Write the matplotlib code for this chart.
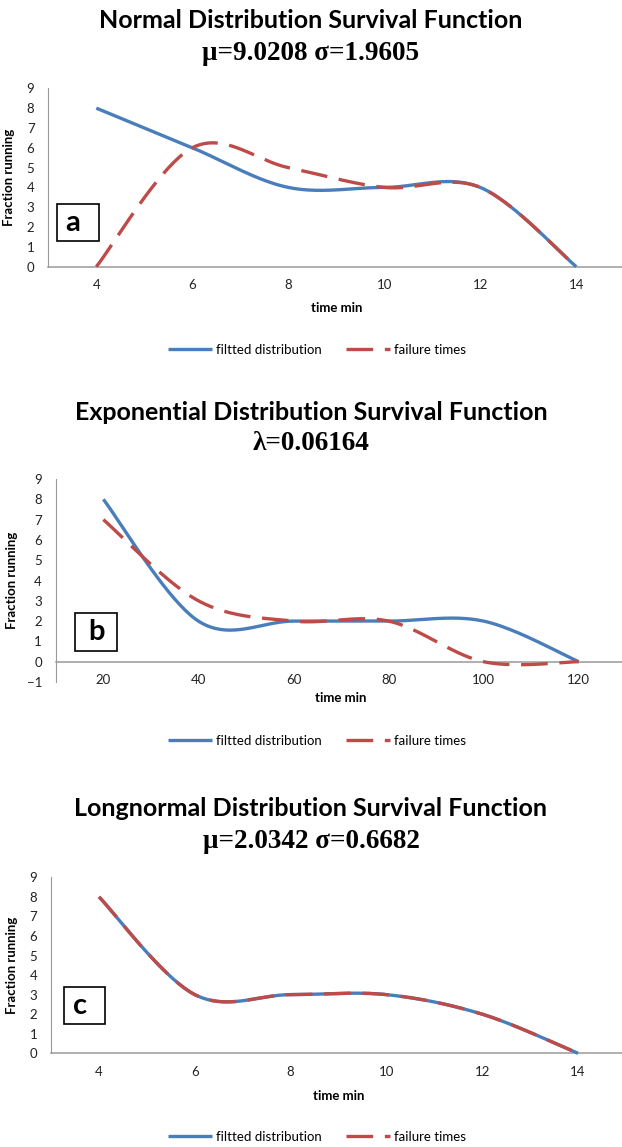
import numpy as np
import matplotlib
matplotlib.use("Agg")
import matplotlib.pyplot as plt
from matplotlib.patches import Rectangle

plt.rcParams['font.family'] = ['Lato', 'DejaVu Sans']

# data
x_a = [4, 6, 8, 10, 12, 14]
fit_a = [8, 6, 4, 4, 4, 0]
fail_a = [0, 6, 5, 4, 4, 0]

x_b = [20, 40, 60, 80, 100, 120]
fit_b = [8, 2, 2, 2, 2, 0]
fail_b = [7, 3, 2, 2, 0, 0]

x_c = [4, 6, 8, 10, 12, 14]
fit_c = [8, 3, 3, 3, 2, 0]
fail_c = [8, 3, 3, 3, 2, 0]

titles = [("Normal Distribution Survival Function", "μ=9.0208 σ=1.9605"),
          ("Exponential Distribution Survival Function", "λ=0.06164"),
          ("Longnormal Distribution Survival Function", "μ=2.0342 σ=0.6682")]
letters = ["a", "b", "c"]

BLUE = "#4A7EBB"
RED = "#BE4B48"
GREY = "#9A9A9A"


def smooth(x, y, n=40):
    # excel style smoothed line (catmull-rom as bezier)
    pts = np.column_stack([x, y]).astype(float)
    P = np.vstack([pts[0], pts, pts[-1]])
    t = np.linspace(0, 1, n)[:, None]
    out = []
    for i in range(len(pts) - 1):
        p0, p1, p2, p3 = P[i], P[i + 1], P[i + 2], P[i + 3]
        c1 = p1 + (p2 - p0) / 6
        c2 = p2 - (p3 - p1) / 6
        seg = (1 - t)**3 * p1 + 3 * (1 - t)**2 * t * c1 + 3 * (1 - t) * t**2 * c2 + t**3 * p2
        out.append(seg if i == 0 else seg[1:])
    s = np.vstack(out)
    return s[:, 0], s[:, 1]


W, H = 622, 1147
fig = plt.figure(figsize=(W / 100, H / 100), dpi=100)


def px_rect(l, r, t, b):
    return [l / W, 1 - b / H, (r - l) / W, (b - t) / H]


panels = [
    dict(x=x_a, fit=fit_a, fail=fail_a, rect=px_rect(48.3, 624.3, 88.3, 266.7),
         xlim=(3, 15), ylim=(0, 9), xt=[4, 6, 8, 10, 12, 14],
         box=(0.0146, 0.144, 0.073, 0.207), lx=0.043, ylc=-0.058,
         t1=21, t2=53, leg=350, lp=8),
    dict(x=x_b, fit=fit_b, fail=fail_b, rect=px_rect(55.8, 626.2, 479, 682),
         xlim=(10, 130), ylim=(-1, 9), xt=[20, 40, 60, 80, 100, 120],
         box=(0.0342, 0.154, 0.0726, 0.184), lx=0.0717, ylc=-0.066,
         t1=412, t2=443, leg=741, lp=4),
    dict(x=x_c, fit=fit_c, fail=fail_c, rect=px_rect(51.1, 626, 877.3, 1053.3),
         xlim=(3, 15), ylim=(0, 9), xt=[4, 6, 8, 10, 12, 14],
         box=(0.023, 0.165, 0.0713, 0.212), lx=0.050, ylc=-0.058,
         t1=809, t2=841, leg=1137, lp=9),
]

for k, p in enumerate(panels):
    ax = fig.add_axes(p["rect"])
    ax.set_xlim(*p["xlim"])
    ax.set_ylim(*p["ylim"])

    sx, sy = smooth(p["x"], p["fit"])
    l1, = ax.plot(sx, sy, color=BLUE, lw=2.4, solid_capstyle='butt', clip_on=False,
                  label="filtted distribution", zorder=3)
    sx, sy = smooth(p["x"], p["fail"])
    l2, = ax.plot(sx, sy, color=RED, lw=2.4, ls=(0, (8, 3.5)), dash_capstyle='butt',
                  clip_on=False, label="failure times", zorder=4)

    for side in ["top", "right"]:
        ax.spines[side].set_visible(False)
    ax.spines["left"].set_color(GREY)
    # horizontal axis sits at y = 0, labels follow it
    ax.spines["bottom"].set_position(("data", 0))
    ax.spines["bottom"].set_color(GREY)
    ax.spines["bottom"].set_linewidth(1.1)

    ax.set_xticks(p["xt"])
    ax.set_yticks(range(p["ylim"][0], 10))
    ax.tick_params(length=0, labelsize=9.5, colors="#222222")
    ax.tick_params(axis="y", pad=10)
    ax.tick_params(axis="x", pad=9)

    ax.set_xlabel("time min", fontsize=9.5, fontweight="bold", labelpad=p["lp"])
    ax.set_ylabel("Fraction running", fontsize=9.5, fontweight="bold")
    ax.yaxis.set_label_coords(p["ylc"], 0.5)

    bx, by, bw, bh = p["box"]
    ax.add_patch(Rectangle((bx, by), bw, bh, transform=ax.transAxes, fill=False,
                           ec="black", lw=1.2, clip_on=False, zorder=5))
    ax.text(p["lx"], by + bh / 2, letters[k], transform=ax.transAxes, fontsize=21,
            fontweight="bold", ha="center", va="center", zorder=6)

    fig.text(0.5, 1 - p["t1"] / H, titles[k][0], ha="center", va="center",
             fontsize=18, fontweight="bold")
    fig.text(0.5, 1 - p["t2"] / H, titles[k][1], ha="center", va="center",
             fontsize=19.5, fontweight="bold", family=["Liberation Serif", "DejaVu Serif"])

    fig.legend(handles=[l1, l2], loc="center", bbox_to_anchor=(317 / W, 1 - p["leg"] / H),
               ncol=2, frameon=False, fontsize=9.5, handlelength=3.3,
               handletextpad=0.3, columnspacing=1.9)

fig.savefig("out.png", dpi=100)
